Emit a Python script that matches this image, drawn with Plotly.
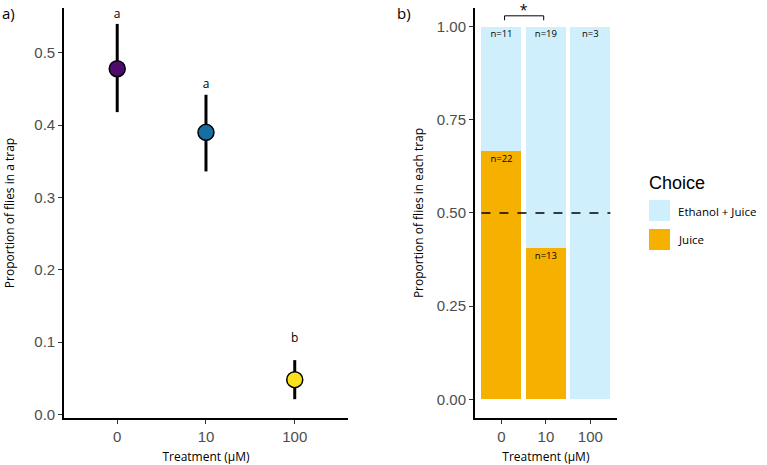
import plotly.graph_objects as go

# panel a: proportion of flies caught
treatments = ["0", "10", "100"]
prop_mean = [0.478, 0.390, 0.048]
prop_low = [0.418, 0.336, 0.021]
prop_high = [0.540, 0.442, 0.075]
point_colors = ["#4B0C6B", "#156FA0", "#F9E11B"]
sig_letters = ["a", "a", "b"]
letter_y = [0.553, 0.455, 0.104]

# panel b: choice within each trap
juice_n = [22, 13, 0]
ethanol_n = [11, 19, 3]
juice_prop = [j / (j + e) for j, e in zip(juice_n, ethanol_n)]
ethanol_prop = [e / (j + e) for j, e in zip(juice_n, ethanol_n)]

light_blue = "#CFEFFC"
orange = "#F6B000"
tick_font = dict(family="Liberation Sans, Arial", size=15, color="#4D4D4D")
title_font = dict(family="Open Sans, Noto Sans", size=12, color="black")
label_font = dict(family="Open Sans, Noto Sans", size=11.5, color="black")
small_font = dict(family="Open Sans, Noto Sans", size=9.5, color="black")

fig = go.Figure()

# error bars drawn as thick segments
for t, lo, hi in zip(treatments, prop_low, prop_high):
    fig.add_trace(go.Scatter(
        x=[t, t], y=[lo, hi], mode="lines",
        line=dict(color="black", width=3),
        showlegend=False, hoverinfo="skip", xaxis="x", yaxis="y"))

fig.add_trace(go.Scatter(
    x=treatments, y=prop_mean, mode="markers",
    marker=dict(size=16, color=point_colors, line=dict(color="black", width=1.5)),
    showlegend=False, xaxis="x", yaxis="y"))

fig.add_trace(go.Scatter(
    x=treatments, y=letter_y, mode="text", text=sig_letters,
    textfont=dict(family="Open Sans, Noto Sans", size=12, color="black"),
    cliponaxis=False, showlegend=False, hoverinfo="skip", xaxis="x", yaxis="y"))

# stacked bars
fig.add_trace(go.Bar(
    x=treatments, y=juice_prop, name="Juice", marker=dict(color=orange, line=dict(width=0)),
    width=0.9, showlegend=False, xaxis="x2", yaxis="y2"))
fig.add_trace(go.Bar(
    x=treatments, y=ethanol_prop, name="Ethanol + Juice",
    marker=dict(color=light_blue, line=dict(width=0)),
    width=0.9, showlegend=False, xaxis="x2", yaxis="y2"))

# n labels just below the top of each segment
eth_lbl_x = [t for t, e in zip(treatments, ethanol_n) if e > 0]
eth_lbl = [f"n={e}" for e in ethanol_n if e > 0]
fig.add_trace(go.Scatter(
    x=eth_lbl_x, y=[0.978] * len(eth_lbl_x), mode="text", text=eth_lbl,
    textfont=small_font, cliponaxis=False,
    showlegend=False, hoverinfo="skip", xaxis="x2", yaxis="y2"))
juice_lbl_x = [t for t, j in zip(treatments, juice_n) if j > 0]
juice_lbl_y = [p - 0.023 for p, j in zip(juice_prop, juice_n) if j > 0]
juice_lbl = [f"n={j}" for j in juice_n if j > 0]
fig.add_trace(go.Scatter(
    x=juice_lbl_x, y=juice_lbl_y, mode="text", text=juice_lbl,
    textfont=small_font, cliponaxis=False,
    showlegend=False, hoverinfo="skip", xaxis="x2", yaxis="y2"))

# significance bracket between 0 and 10 (numeric overlay axis, 0 = first bar)
fig.add_trace(go.Scatter(
    x=[0.07, 0.07, 0.95, 0.95], y=[1.017, 1.029, 1.029, 1.017], mode="lines",
    line=dict(color="black", width=1), showlegend=False, hoverinfo="skip",
    cliponaxis=False, xaxis="x3", yaxis="y2"))
fig.add_trace(go.Scatter(
    x=[0.5], y=[1.041], mode="text", text=["*"],
    textfont=dict(family="Open Sans, Noto Sans", size=14, color="black"),
    cliponaxis=False, showlegend=False, hoverinfo="skip", xaxis="x3", yaxis="y2"))

axis_common = dict(showline=True, linecolor="black", linewidth=1.5, ticks="outside",
                   ticklen=4, tickcolor="#333333", tickfont=tick_font,
                   showgrid=False, zeroline=False, title_font=title_font,
                   automargin=False)

fig.update_layout(
    width=767, height=465,
    margin=dict(l=0, r=0, t=0, b=0),
    plot_bgcolor="white", paper_bgcolor="white",
    barmode="stack", bargap=0.1,
    xaxis=dict(axis_common, domain=[0.0834, 0.4537], anchor="y",
               type="category", range=[-0.6, 2.6],
               title=dict(text="Treatment (µM)", standoff=9)),
    yaxis=dict(axis_common, domain=[0.1011, 0.9828], anchor="x",
               range=[-0.005, 0.562], tickvals=[0, 0.1, 0.2, 0.3, 0.4, 0.5],
               tickformat=".1f",
               title=dict(text="Proportion of flies in a trap", standoff=17)),
    xaxis2=dict(axis_common, domain=[0.619, 0.8045], anchor="y2",
                type="category", range=[-0.6, 2.6],
                title=dict(text="Treatment (µM)", standoff=9)),
    xaxis3=dict(domain=[0.619, 0.8045], anchor="y2", overlaying="x2",
                range=[-0.6, 2.6], visible=False),
    yaxis2=dict(axis_common, domain=[0.1011, 0.9828], anchor="x2",
                range=[-0.05, 1.05], tickvals=[0, 0.25, 0.5, 0.75, 1.0],
                tickformat=".2f",
                title=dict(text="Proportion of flies in each trap", standoff=11)),
    annotations=[
        dict(text="a)", x=0.0, y=1.0, xref="paper", yref="paper", xanchor="left",
             yanchor="top", showarrow=False, yshift=-1,
             font=dict(family="Open Sans, Noto Sans", size=15, color="black")),
        dict(text="b)", x=395 / 767, y=1.0, xref="paper", yref="paper", xanchor="left",
             yanchor="top", showarrow=False, yshift=-1,
             font=dict(family="Open Sans, Noto Sans", size=15, color="black")),
        dict(text="Choice", x=647 / 767, y=1 - 183 / 465, xref="paper", yref="paper",
             xanchor="left", yanchor="middle", showarrow=False,
             font=dict(family="Liberation Sans, Arial", size=18, color="black")),
        dict(text="Ethanol + Juice", x=676 / 767, y=1 - 211 / 465, xref="paper", yref="paper",
             xanchor="left", yanchor="middle", showarrow=False, font=label_font),
        dict(text="Juice", x=676 / 767, y=1 - 239 / 465, xref="paper", yref="paper",
             xanchor="left", yanchor="middle", showarrow=False, font=label_font),
    ],
    shapes=[
        dict(type="line", xref="x3", yref="y2", x0=-0.45, x1=2.45, y0=0.5, y1=0.5,
             line=dict(color="black", width=1.3, dash="dash")),
        dict(type="rect", xref="paper", yref="paper", x0=649 / 767, x1=670 / 767,
             y0=1 - 221 / 465, y1=1 - 200 / 465, fillcolor=light_blue, line=dict(width=0)),
        dict(type="rect", xref="paper", yref="paper", x0=649 / 767, x1=670 / 767,
             y0=1 - 250 / 465, y1=1 - 229 / 465, fillcolor=orange, line=dict(width=0)),
    ],
)

# page body has a default 8px margin; drop it so the figure fills the window
fig.write_html("out.html", config={"displayModeBar": False},
               post_script="document.body.style.margin='0';")
